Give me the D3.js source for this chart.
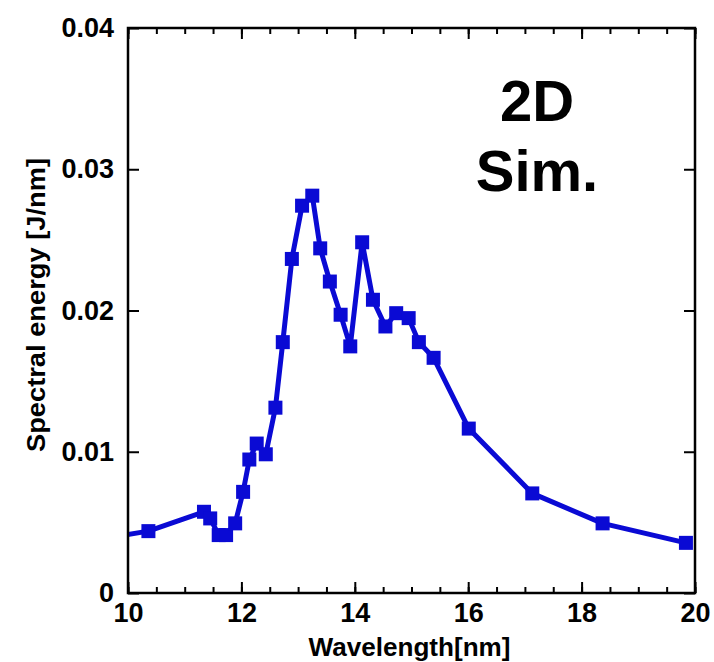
<!DOCTYPE html>
<html>
<head>
<meta charset="utf-8">
<script src="https://cdn.jsdelivr.net/npm/d3@7"></script>
<style>
  html, body { margin: 0; padding: 0; background: #fff; }
  svg { display: block; }
  text { font-family: "Liberation Sans", Arial, Helvetica, sans-serif; font-weight: bold; fill: #000; }
</style>
</head>
<body>
<svg id="chart" width="714" height="662"></svg>
<script>
// Spectral energy of the 2D simulation versus wavelength
const wavelength = [9.8, 10.36, 11.34, 11.45, 11.60, 11.73, 11.89, 12.03, 12.14, 12.27, 12.43, 12.60,
  12.73, 12.89, 13.07, 13.25, 13.39, 13.56, 13.75, 13.92, 14.13, 14.32, 14.54, 14.73,
  14.95, 15.13, 15.39, 16.01, 17.13, 18.37, 19.84];
const energy = [0.0040, 0.00438, 0.00575, 0.00528, 0.0041, 0.0041, 0.00493, 0.00716, 0.00945, 0.01058,
  0.00982, 0.01312, 0.01776, 0.02365, 0.02742, 0.02813, 0.0244, 0.02205, 0.0197, 0.01746,
  0.02483, 0.02076, 0.01887, 0.01981, 0.01946, 0.01776, 0.01665, 0.01164, 0.00705, 0.00493, 0.00355];
// the first sample sits just left of the visible window; only its line segment shows
const markerShown = wavelength.map(w => w >= 10);

const xTicks = [10, 12, 14, 16, 18, 20];
const xMinorTicks = d3.range(10, 20.01, 0.5);
const yTicks = [0, 0.01, 0.02, 0.03, 0.04];
const yTickLabels = ["0", "0.01", "0.02", "0.03", "0.04"];
const xTitle = "Wavelength[nm]";
const yTitle = "Spectral energy [J/nm]";
const annotation = ["2D", "Sim."];

const plotLeft = 128, plotRight = 695, plotTop = 28, plotBottom = 593;
const svg = d3.select("#chart");

const x = d3.scaleLinear().domain([10, 20]).range([plotLeft, plotRight]);
const y = d3.scaleLinear().domain([0, 0.04]).range([plotBottom, plotTop]);

const blue = "#0a0ad4";

// clip region for the data
svg.append("defs").append("clipPath").attr("id", "plotClip")
  .append("rect").attr("x", plotLeft).attr("y", plotTop)
  .attr("width", plotRight - plotLeft).attr("height", plotBottom - plotTop);

const plot = svg.append("g").attr("clip-path", "url(#plotClip)");

const pts = wavelength.map((w, i) => ({ w, e: energy[i], show: markerShown[i] }));

plot.append("path")
  .datum(pts)
  .attr("fill", "none")
  .attr("stroke", blue)
  .attr("stroke-width", 5)
  .attr("stroke-linejoin", "round")
  .attr("d", d3.line().x(d => x(d.w)).y(d => y(d.e)));

const ms = 14;
plot.selectAll("rect.marker")
  .data(pts.filter(d => d.show))
  .join("rect")
  .attr("class", "marker")
  .attr("x", d => x(d.w) - ms / 2)
  .attr("y", d => y(d.e) - ms / 2)
  .attr("width", ms)
  .attr("height", ms)
  .attr("fill", blue);

// axes: inward ticks on all four sides
const tickStyle = g => {
  g.select(".domain").remove();
  g.selectAll("line").attr("stroke", "#000").attr("stroke-width", 2);
};

svg.append("g").attr("transform", `translate(0,${plotBottom})`)
  .call(d3.axisBottom(x).tickValues(xMinorTicks).tickSize(-6).tickFormat(""))
  .call(tickStyle);
svg.append("g").attr("transform", `translate(0,${plotBottom})`)
  .call(d3.axisBottom(x).tickValues(xTicks).tickSize(-11).tickFormat(d3.format("d")))
  .call(tickStyle)
  .call(g => g.selectAll("text").attr("font-size", 27).attr("dy", "0.71em").attr("y", 10));

svg.append("g").attr("transform", `translate(0,${plotTop})`)
  .call(d3.axisTop(x).tickValues(xMinorTicks).tickSize(-6).tickFormat(""))
  .call(tickStyle);
svg.append("g").attr("transform", `translate(0,${plotTop})`)
  .call(d3.axisTop(x).tickValues(xTicks).tickSize(-11).tickFormat(""))
  .call(tickStyle);

svg.append("g").attr("transform", `translate(${plotLeft},0)`)
  .call(d3.axisLeft(y).tickValues(yTicks).tickSize(-11)
    .tickFormat((d, i) => yTickLabels[i]))
  .call(tickStyle)
  .call(g => g.selectAll("text").attr("font-size", 27).attr("x", -14));

svg.append("g").attr("transform", `translate(${plotRight},0)`)
  .call(d3.axisRight(y).tickValues(yTicks).tickSize(-11).tickFormat(""))
  .call(tickStyle);

// frame
svg.append("rect")
  .attr("x", plotLeft).attr("y", plotTop)
  .attr("width", plotRight - plotLeft).attr("height", plotBottom - plotTop)
  .attr("fill", "none").attr("stroke", "#000").attr("stroke-width", 2.5);

// axis titles
svg.append("text")
  .attr("x", (plotLeft + plotRight) / 2 - 2).attr("y", 656)
  .attr("text-anchor", "middle")
  .attr("font-size", 25)
  .attr("textLength", 202).attr("lengthAdjust", "spacingAndGlyphs")
  .text(xTitle);

svg.append("text")
  .attr("transform", `translate(45,305) rotate(-90)`)
  .attr("text-anchor", "middle")
  .attr("font-size", 25)
  .attr("textLength", 294).attr("lengthAdjust", "spacingAndGlyphs")
  .text(yTitle);

// annotation
svg.append("g").selectAll("text")
  .data(annotation)
  .join("text")
  .attr("x", 537)
  .attr("y", (d, i) => 121 + i * 70)
  .attr("text-anchor", "middle")
  .attr("font-size", 58)
  .text(d => d);
</script>
</body>
</html>
